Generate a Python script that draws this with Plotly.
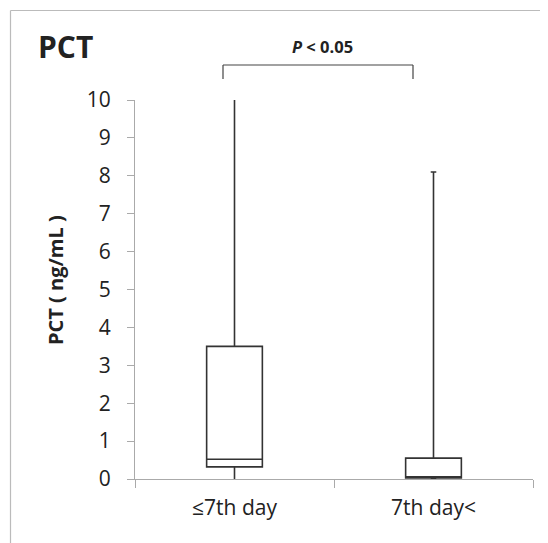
import plotly.graph_objects as go

categories = ["≤7th day", "7th day<"]
lower_fence = [0.0, 0.0]
q1 = [0.32, 0.03]
median = [0.52, 0.06]
q3 = [3.5, 0.55]
upper_fence = [10.0, 8.1]
whisker_caps = [0.0, 0.1]
y_ticks = list(range(0, 11))

FONT = "Open Sans"
TXT = "#222222"

# the page body adds an 8px offset; work in page pixels and subtract it
OFF = 8
W, H = 548 - OFF, 543 - OFF
PL, PR, PT, PB = 135, 533, 100, 479  # plot area in page pixels
L, T = PL - OFF, PT - OFF
R = W - (PR - OFF)
B = H - (PB - OFF)
pw, ph = PR - PL, PB - PT

fig = go.Figure()
for i, cat in enumerate(categories):
    fig.add_trace(go.Box(
        x=[cat], q1=[q1[i]], median=[median[i]], q3=[q3[i]],
        lowerfence=[lower_fence[i]], upperfence=[upper_fence[i]],
        fillcolor="white", line=dict(color="#333333", width=1.6),
        whiskerwidth=whisker_caps[i], boxpoints=False, showlegend=False,
        hoverinfo="skip",
    ))


def px_x(p):
    return (p - PL) / pw


def px_y(p):
    return (PB - p) / ph


fig.update_layout(
    width=W, height=H,
    margin=dict(l=L, r=R, t=T, b=B),
    paper_bgcolor="white", plot_bgcolor="white",
    boxmode="overlay", boxgap=0.6,
    font=dict(family=FONT, color=TXT),
    xaxis=dict(
        type="category", categoryorder="array", categoryarray=categories,
        range=[-0.5, 1.5], tickson="boundaries", ticks="outside", ticklen=8,
        tickcolor="#aaaaaa", showline=True, linecolor="#aaaaaa", linewidth=1.2,
        showgrid=False, tickfont=dict(size=21, family=FONT, color=TXT),
        ticklabelstandoff=10, fixedrange=True,
    ),
    yaxis=dict(
        range=[0, 10], tickvals=y_ticks, ticks="outside", ticklen=7,
        tickcolor="#aaaaaa", showline=True, linecolor="#aaaaaa", linewidth=1.2,
        showgrid=False, zeroline=False,
        tickfont=dict(size=21, family=FONT, color=TXT),
        ticklabelstandoff=12, fixedrange=True,
    ),
)

# frame around the chart (left and top edges visible)
fx = px_x(10.5)
fy = px_y(10.5)
fig.add_shape(type="line", xref="paper", yref="paper",
              x0=fx, x1=fx, y0=px_y(560), y1=fy,
              line=dict(color="#bbbbbb", width=1.2), layer="above")
fig.add_shape(type="line", xref="paper", yref="paper",
              x0=fx, x1=px_x(560), y0=fy, y1=fy,
              line=dict(color="#bbbbbb", width=1.2), layer="above")

# significance bracket
bx0 = (223 - 234.5) / 199
bx1 = (413 - 234.5) / 199
yb_top = px_y(65)
yb_bot = px_y(79)
for shp in [dict(x0=bx0, x1=bx1, y0=yb_top, y1=yb_top),
            dict(x0=bx0, x1=bx0, y0=yb_top, y1=yb_bot),
            dict(x0=bx1, x1=bx1, y0=yb_top, y1=yb_bot)]:
    fig.add_shape(type="line", xref="x", yref="paper",
                  line=dict(color="#444444", width=1.2), **shp)

fig.add_annotation(text="<b><i>P</i> < 0.05</b>", xref="paper", yref="paper",
                   x=px_x(322), y=px_y(47), showarrow=False,
                   font=dict(size=16.5, family=FONT, color=TXT),
                   xanchor="center", yanchor="middle")

fig.add_annotation(text="<b>PCT</b>", xref="paper", yref="paper",
                   x=px_x(36), y=px_y(47), showarrow=False,
                   font=dict(size=30, family=FONT, color=TXT),
                   xanchor="left", yanchor="middle")

fig.add_annotation(text="<b>PCT ( ng/mL )</b>", xref="paper", yref="paper",
                   x=px_x(55), y=px_y(280), showarrow=False, textangle=-90,
                   font=dict(size=20, family=FONT, color=TXT),
                   xanchor="center", yanchor="middle")

fig.write_html("out.html")
